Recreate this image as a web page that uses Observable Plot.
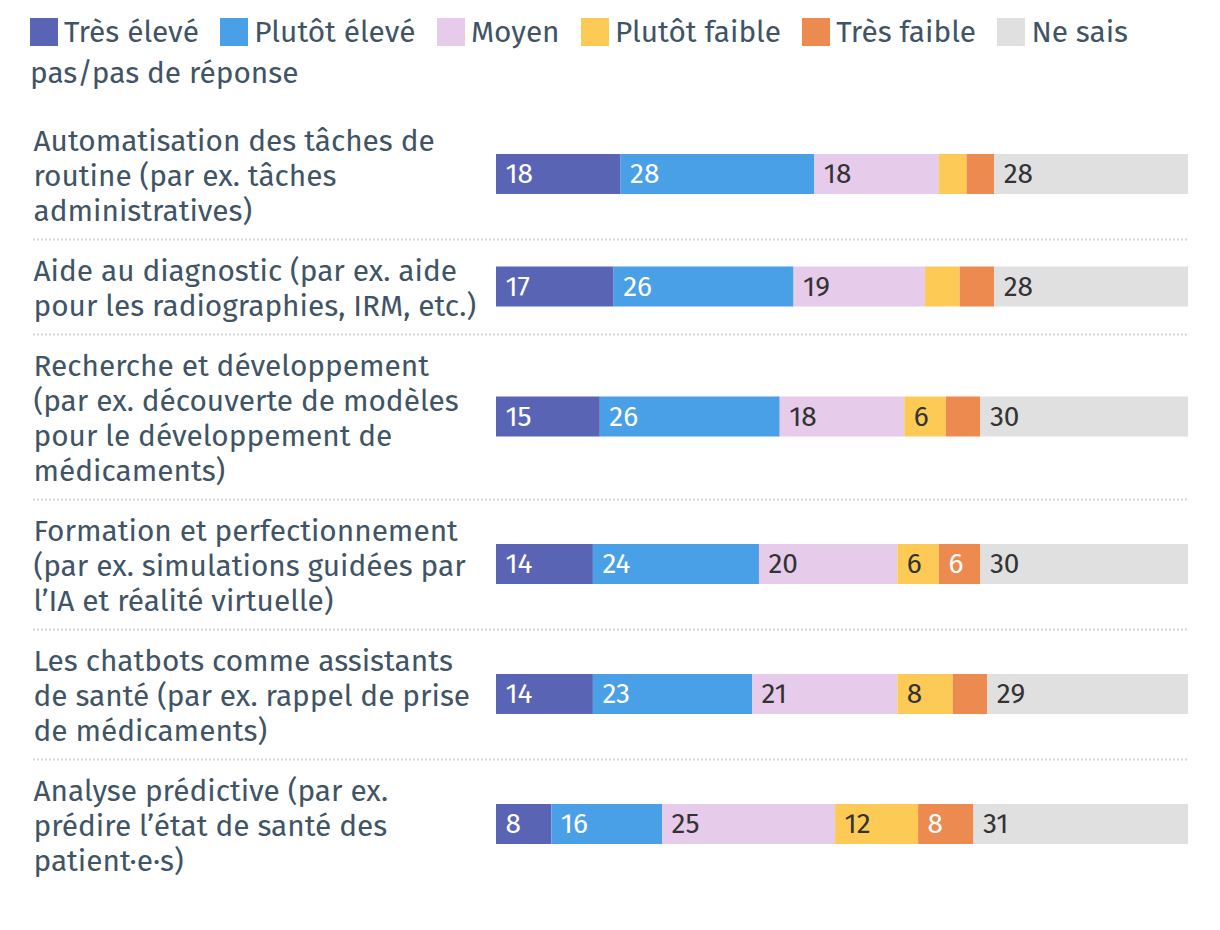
<!DOCTYPE html>
<html><head><meta charset="utf-8">
<script src="https://cdn.jsdelivr.net/npm/d3@7"></script>
<script src="https://cdn.jsdelivr.net/npm/@observablehq/plot@0.6"></script>
<style>
body{margin:0;background:#fff;font-family:"Fira Sans","Open Sans",sans-serif;color:#405466}
#legend{padding:12px 20px 0 30px;font-size:29.8px;line-height:41px;width:1210px;box-sizing:border-box}
.sw{display:inline-block;width:28px;height:28px;vertical-align:-4px;margin-right:6px}
.item{margin-right:13.5px}
</style></head><body>
<div id="legend"></div><div id="chart"></div>
<script>
const categories = [
 "Automatisation des tâches de\nroutine (par ex. tâches\nadministratives)",
 "Aide au diagnostic (par ex. aide\npour les radiographies, IRM, etc.)",
 "Recherche et développement\n(par ex. découverte de modèles\npour le développement de\nmédicaments)",
 "Formation et perfectionnement\n(par ex. simulations guidées par\nl’IA et réalité virtuelle)",
 "Les chatbots comme assistants\nde santé (par ex. rappel de prise\nde médicaments)",
 "Analyse prédictive (par ex.\nprédire l’état de santé des\npatient·e·s)"
];
const levels = ["Très élevé","Plutôt élevé","Moyen","Plutôt faible","Très faible","Ne sais pas/pas de réponse"];
const colors = ["#5a64b4","#4aa0e7","#e6cbeb","#fdcb55","#ed8a4f","#e0e0e0"];
const lightLabel = [true,true,false,false,true,false];
const tresEleve    = [18,17,15,14,14,8];
const plutotEleve  = [28,26,26,24,23,16];
const moyen        = [18,19,18,20,21,25];
const plutotFaible = [4,5,6,6,8,12];
const tresFaible   = [4,5,5,6,5,8];
const neSaisPas    = [28,28,30,30,29,31];
const series = [tresEleve, plutotEleve, moyen, plutotFaible, tresFaible, neSaisPas];

// legend
const leg = document.getElementById("legend");
leg.innerHTML = levels.map((l,i)=>`<span class="item"><span class="sw" style="background:${colors[i]}"></span>${l}</span>`).join(" ");

// row layout (row height grows with the number of label lines)
const LINE = 35, PAD = 25, BAR = 40, TOP = 15, BOTTOM = 42;
let acc = 0;
const rows = categories.map((c,i)=>{
  const n = c.split("\n").length, h = n*LINE + PAD;
  const r = {c, top: acc, bottom: acc + h, mid: acc + h/2};
  acc += h; return r;
});
const table = [];
rows.forEach((r,i)=>{
  let x = 0;
  series.forEach((s,k)=>{
    table.push({cat:r.c, level:levels[k], k, value:s[i], x1:x, x2:x+s[i], y1:r.mid-BAR/2, y2:r.mid+BAR/2, mid:r.mid});
    x += s[i];
  });
});

const chart = Plot.plot({
  width: 1220, height: TOP + acc + BOTTOM,
  marginLeft: 33, marginRight: 32, marginTop: TOP, marginBottom: BOTTOM,
  style: {fontFamily: '"Fira Sans","Open Sans",sans-serif', background: "#fff"},
  x: {domain: [0,100], range: [496,1188], axis: null},
  y: {domain: [0,acc], range: [TOP, TOP+acc], axis: null},
  color: {domain: levels, range: colors},
  marks: [
    Plot.ruleY(rows.slice(0,-1), {y: "bottom", stroke: "#d6d6d6", strokeWidth: 2, strokeDasharray: "2,2"}),
    Plot.rectX(table, {x1: "x1", x2: "x2", y1: "y1", y2: "y2", fill: "level"}),
    Plot.text(table.filter(d=>d.value>=6 && lightLabel[d.k]), {x: "x1", y: "mid", text: d=>String(d.value), dx: 9, textAnchor: "start", fill: "#fff", fontSize: 28}),
    Plot.text(table.filter(d=>d.value>=6 && !lightLabel[d.k]), {x: "x1", y: "mid", text: d=>String(d.value), dx: 9, textAnchor: "start", fill: "#333", fontSize: 28}),
    Plot.text(rows, {y: "mid", text: "c", frameAnchor: "left", textAnchor: "start", lineAnchor: "middle", lineHeight: 35/29.8, fontSize: 29.8, fill: "#405466"})
  ]
});
document.getElementById("chart").appendChild(chart);
</script>
</body></html>
